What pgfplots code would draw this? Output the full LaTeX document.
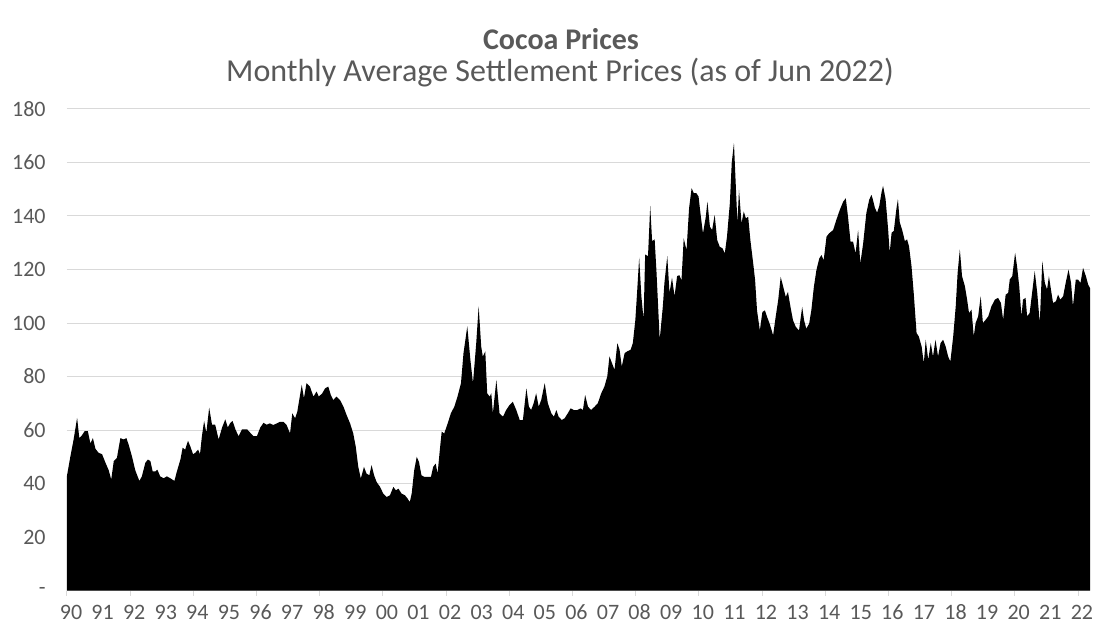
\documentclass[border=0pt]{standalone}
\usepackage{pgfplots}
\pgfplotsset{compat=1.18}
\usepackage{fontspec}
\setmainfont{Carlito}
\definecolor{txt}{HTML}{595959}
\definecolor{grd}{HTML}{D9D9D9}
\begin{document}
\begin{tikzpicture}
\begin{axis}[
  at={(0,0)}, anchor=south west,
  scale only axis, width=767.25pt, height=361.3pt,
  xmin=1990, xmax=2022.38, ymin=0, ymax=180,
  axis x line*=bottom, axis y line*=left,
  y axis line style={draw=none},
  x axis line style={draw=grd, line width=0.75pt},
  ytick={0,20,...,180},
  yticklabels={-,20,40,60,80,100,120,140,160,180},
  xtick={1990,...,2022},
  xticklabels={90,91,92,93,94,95,96,97,98,99,00,01,02,03,04,05,06,07,08,09,10,11,12,13,14,15,16,17,18,19,20,21,22},
  minor xtick={1990,1992,...,2022},
  major tick length=0pt,
  minor tick length=4pt,
  tick align=outside,
  minor tick style={draw=grd, line width=0.75pt},
  ymajorgrids,
  major grid style={draw=grd, line width=0.75pt},
  /pgf/number format/assume math mode=true,
  tick label style={font=\fontsize{16.5}{19}\selectfont, text=txt},
  yticklabel style={xshift=-12.5pt},
  xticklabel style={anchor=base, yshift=-22pt, xshift=3pt},
  clip=true,
]
\addplot[fill=black, draw=none] coordinates {
(1990.00,43) (1990.105,50) (1990.21,56.5) (1990.32,64.6) (1990.39,57) (1990.47,58)
(1990.56,59.6) (1990.66,59.6) (1990.74,55) (1990.82,57) (1990.90,53) (1991.00,51.5)
(1991.11,51) (1991.21,48) (1991.32,45) (1991.40,41.5) (1991.48,48.4) (1991.58,49.6)
(1991.69,57) (1991.79,56.5) (1991.88,57) (1991.95,54.6) (1992.06,50) (1992.16,45)
(1992.29,41) (1992.37,42.7) (1992.48,47.8) (1992.56,49) (1992.64,48.4) (1992.71,44.6)
(1992.80,44.6) (1992.86,45.2) (1992.95,42.7) (1993.06,42) (1993.16,42.7) (1993.27,42)
(1993.40,41) (1993.48,44.6) (1993.59,49) (1993.66,53.4) (1993.74,52.7) (1993.83,56)
(1993.90,54) (1993.99,51) (1994.06,51.5) (1994.15,52.7) (1994.21,51) (1994.27,57.7)
(1994.34,63.4) (1994.41,59) (1994.50,68.4) (1994.59,62) (1994.69,62) (1994.80,56.5)
(1994.91,61) (1995.01,64) (1995.09,61) (1995.17,62.7) (1995.24,63.4) (1995.33,60.3)
(1995.43,57.7) (1995.54,60.3) (1995.70,60.3) (1995.80,59) (1995.91,57.7) (1996.01,57.7)
(1996.12,61) (1996.22,62.7) (1996.32,62) (1996.42,62.5) (1996.53,61.9) (1996.64,62.5)
(1996.74,63.1) (1996.85,63.1) (1996.95,61.9) (1997.06,58.75) (1997.13,66.25) (1997.22,64.4)
(1997.29,66.9) (1997.35,71.25) (1997.43,76.9) (1997.50,71.9) (1997.58,77.5) (1997.69,76.25)
(1997.80,72.5) (1997.90,74.4) (1997.97,72.5) (1998.08,73.75) (1998.17,75.6) (1998.27,76.25)
(1998.35,73.1) (1998.43,71.25) (1998.53,72.5) (1998.64,71.25) (1998.75,68.75) (1998.85,65.6)
(1998.96,62.5) (1999.06,58.75) (1999.14,53.75) (1999.22,46.25) (1999.30,41.9) (1999.40,46.25)
(1999.48,43.75) (1999.57,43.1) (1999.64,46.9) (1999.72,43.1) (1999.80,40.6) (1999.91,38.75)
(2000.01,36.25) (2000.12,35) (2000.22,35.6) (2000.33,38.75) (2000.41,37.5) (2000.49,38.1)
(2000.59,36.25) (2000.70,35.6) (2000.78,34.4) (2000.85,33.1) (2000.91,36.25) (2000.99,45)
(2001.07,50) (2001.14,48.1) (2001.22,43.1) (2001.31,42.5) (2001.41,42.5) (2001.52,42.5)
(2001.59,46.25) (2001.67,47.5) (2001.73,43.75) (2001.80,52.5) (2001.86,59.4) (2001.94,58.75)
(2002.05,62.5) (2002.15,66.25) (2002.26,68.75) (2002.36,72.5) (2002.47,77.5) (2002.55,88.75)
(2002.67,98.75) (2002.77,86) (2002.85,77.5) (2002.95,92) (2003.03,106.25) (2003.11,91.25)
(2003.16,87.5) (2003.24,89.4) (2003.30,73.75) (2003.38,72.5) (2003.43,73.75) (2003.48,66.25)
(2003.59,78.75) (2003.69,66.25) (2003.80,65) (2003.90,67.5) (2004.01,69.4) (2004.11,70.6)
(2004.22,67.5) (2004.33,63.75) (2004.43,63.75) (2004.54,75.6) (2004.62,68.75) (2004.69,67.5)
(2004.77,70) (2004.85,73.75) (2004.93,68.75) (2005.01,71.25) (2005.12,77.5) (2005.22,70)
(2005.33,66.25) (2005.41,65) (2005.49,67.5) (2005.56,65) (2005.66,63.75) (2005.75,64.4)
(2005.85,66.25) (2005.94,68.1) (2006.04,67.5) (2006.15,67.5) (2006.26,68.1) (2006.33,67.5)
(2006.40,73.1) (2006.49,68.75) (2006.59,67.5) (2006.70,68.75) (2006.80,70) (2006.91,73.75)
(2007.01,76.25) (2007.10,80) (2007.17,87.5) (2007.25,85) (2007.33,82.5) (2007.42,92.5)
(2007.49,90) (2007.56,83.75) (2007.65,88.75) (2007.73,89.4) (2007.84,90) (2007.91,92.5)
(2007.99,101.25) (2008.05,112.5) (2008.11,124.4) (2008.18,110) (2008.25,101.25) (2008.30,125.6)
(2008.39,125) (2008.46,143.75) (2008.52,130.6) (2008.60,131.25) (2008.66,118.75) (2008.76,93.75)
(2008.86,106.25) (2008.91,115) (2009.00,125) (2009.07,111.25) (2009.15,116.9) (2009.23,110)
(2009.31,117.5) (2009.38,117.9) (2009.45,116) (2009.52,131.6) (2009.61,127.25) (2009.69,142.9)
(2009.77,150.4) (2009.84,148.5) (2009.92,148.5) (2009.99,147.25) (2010.05,141) (2010.13,133.5)
(2010.22,139.75) (2010.27,145.4) (2010.35,136) (2010.42,134.75) (2010.50,140.4) (2010.58,131)
(2010.66,128.5) (2010.75,127.9) (2010.82,126) (2010.89,132.25) (2010.98,144.75) (2011.04,159.75)
(2011.11,167.25) (2011.17,151) (2011.22,137.25) (2011.27,149.75) (2011.35,137.25) (2011.42,141.6)
(2011.49,139.1) (2011.56,139.75) (2011.63,131) (2011.72,122.25) (2011.78,116) (2011.84,104.75)
(2011.93,97.25) (2012.01,104.1) (2012.09,104.75) (2012.16,102.25) (2012.24,99.75) (2012.35,95.4)
(2012.43,102.25) (2012.51,108.5) (2012.59,117.25) (2012.67,113.5) (2012.75,109.75) (2012.82,111.6)
(2012.90,106) (2012.98,101) (2013.07,98.5) (2013.17,97.25) (2013.27,106) (2013.33,101)
(2013.40,97.9) (2013.49,99.75) (2013.56,104.75) (2013.64,113.5) (2013.72,119.75) (2013.81,124.1)
(2013.88,125.4) (2013.95,123.5) (2014.04,132.25) (2014.12,133.5) (2014.25,134.75) (2014.35,138.5)
(2014.46,142.25) (2014.57,145.4) (2014.65,146.6) (2014.72,139.75) (2014.80,130.4) (2014.88,130.4)
(2014.96,126) (2015.04,134.75) (2015.11,122.25) (2015.20,129.75) (2015.30,141) (2015.39,146)
(2015.46,147.9) (2015.49,146.9) (2015.57,143.1) (2015.64,141.25) (2015.71,143.75) (2015.78,148.75)
(2015.83,151.25) (2015.91,146.25) (2015.99,135) (2016.04,126.25) (2016.10,133.75) (2016.17,134.4)
(2016.25,142.5) (2016.30,146.25) (2016.36,137.5) (2016.43,135) (2016.52,130.6) (2016.59,131.25)
(2016.65,128.75) (2016.73,121.25) (2016.80,111.25) (2016.89,96.25) (2016.96,95) (2017.05,91.25)
(2017.12,85) (2017.18,93.75) (2017.26,86.25) (2017.34,92.5) (2017.41,87.5) (2017.49,93.75)
(2017.57,87.5) (2017.65,92.5) (2017.73,93.75) (2017.81,91.25) (2017.89,87.5) (2017.96,85.6)
(2018.05,95) (2018.13,106.25) (2018.19,118.75) (2018.26,127.5) (2018.33,117.5) (2018.42,113.75)
(2018.49,108.75) (2018.55,103.75) (2018.63,105) (2018.70,95) (2018.76,100) (2018.84,102.5)
(2018.92,110) (2018.99,100) (2019.08,101.25) (2019.16,102.5) (2019.26,106.25) (2019.37,108.75)
(2019.47,109.4) (2019.56,107.5) (2019.63,101.25) (2019.71,110.6) (2019.79,111.25) (2019.84,116.25)
(2019.92,117.5) (2020.01,126.25) (2020.07,121.25) (2020.14,113.75) (2020.21,102.5) (2020.26,108.75)
(2020.34,109.4) (2020.39,102.5) (2020.47,103.75) (2020.56,112.5) (2020.63,119.4) (2020.71,111.25)
(2020.79,100) (2020.87,123.1) (2020.95,115) (2021.02,112.5) (2021.08,117.5) (2021.16,111.25)
(2021.21,107.5) (2021.30,108.1) (2021.37,110.6) (2021.44,108.75) (2021.53,110) (2021.61,115)
(2021.70,120) (2021.78,115) (2021.84,106.25) (2021.93,116.25) (2022.00,116.25) (2022.08,115)
(2022.16,120.6) (2022.25,117.5) (2022.32,114.4) (2022.38,113)
} \closedcycle;
\end{axis}
\node[anchor=base, font=\fontsize{22.5}{27}\selectfont\bfseries, text=txt] at (370.5pt,405.5pt) {Cocoa Prices};
\node[anchor=base, font=\fontsize{24}{29}\selectfont, text=txt] at (369.75pt,382pt) {Monthly Average Settlement Prices (as of Jun 2022)};
\pgfresetboundingbox
\path[use as bounding box] (-50.25pt,-28.725pt) rectangle (769.5pt,443pt);
\end{tikzpicture}
\end{document}
